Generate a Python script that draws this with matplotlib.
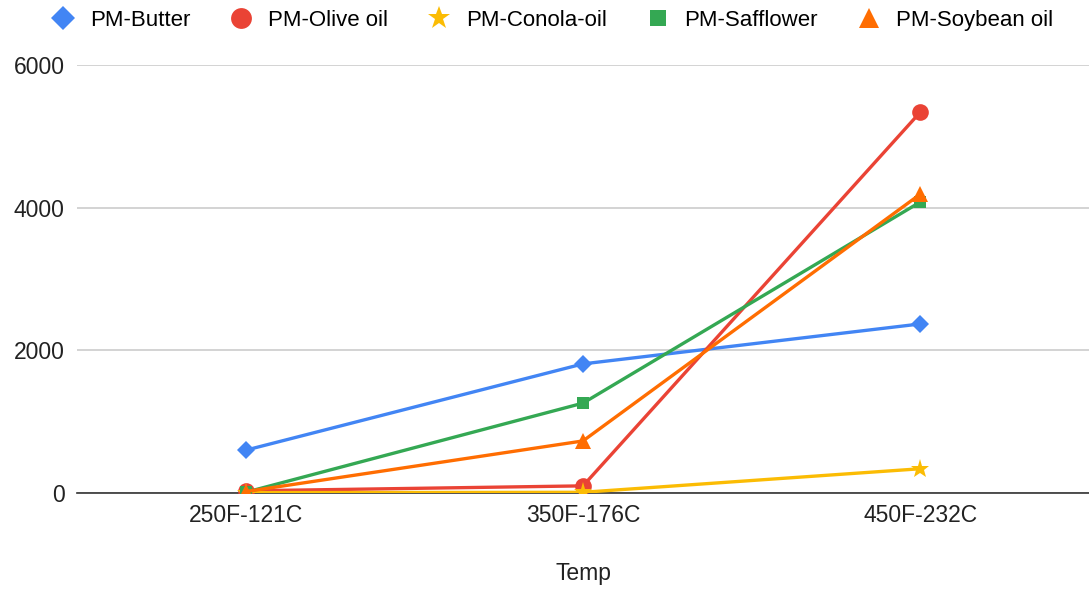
import matplotlib.pyplot as plt
from matplotlib.lines import Line2D

plt.rcParams['font.family'] = ['Liberation Sans', 'DejaVu Sans']

temps = ['250F-121C', '350F-176C', '450F-232C']
butter = [600, 1810, 2370]
olive_oil = [30, 100, 5340]
conola_oil = [5, 10, 340]
safflower = [10, 1260, 4080]
soybean_oil = [20, 730, 4190]

series = [
    ('PM-Butter', butter, '#4285F4', 'D', 9),
    ('PM-Olive oil', olive_oil, '#EA4335', 'o', 12),
    ('PM-Conola-oil', conola_oil, '#FBBC04', '*', 14),
    ('PM-Safflower', safflower, '#34A853', 's', 9),
    ('PM-Soybean oil', soybean_oil, '#FF6D01', '^', 11),
]

fig = plt.figure(figsize=(10.89, 5.89), dpi=100)
ax = fig.add_axes([77 / 1089, 96 / 589, 1 - 77 / 1089, 428 / 589])

x = list(range(len(temps)))
handles = []
for name, vals, color, marker, ms in series:
    ax.plot(x, vals, color=color, lw=2.4, marker=marker, markersize=ms,
            markeredgewidth=0, zorder=3)
    handles.append(Line2D([], [], ls='none', marker=marker, color=color,
                          markersize=ms + 3, markeredgewidth=0, label=name))

ax.set_xlim(-0.5, 2.5)
ax.set_ylim(0, 6000)
ax.set_yticks([0, 2000, 4000, 6000])
ax.set_xticks(x)
ax.set_xticklabels(temps)
ax.tick_params(length=0, labelsize=16.5, colors='#222222', pad=8)
ax.tick_params(axis='y', pad=9)
ax.grid(axis='y', color='#cccccc', lw=1.2)
ax.set_axisbelow(True)
for s in ['top', 'right', 'left']:
    ax.spines[s].set_visible(False)
ax.spines['bottom'].set_color('#333333')
ax.spines['bottom'].set_linewidth(1.2)
ax.set_xlabel('Temp', fontsize=16.5, color='#222222', labelpad=25)

fig.legend(handles=handles, loc='upper left', bbox_to_anchor=(0.0295, 1.017),
           ncol=5, frameon=False, fontsize=16, handlelength=1.0,
           handletextpad=0.7, columnspacing=1.8)

fig.savefig('out.png', dpi=100)
